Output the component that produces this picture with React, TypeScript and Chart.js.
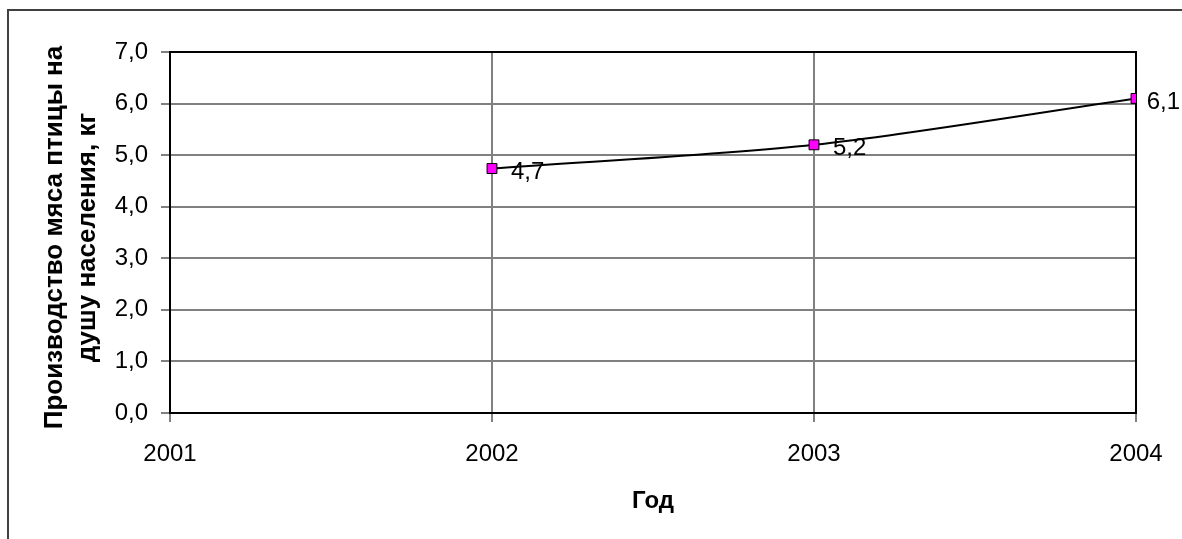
import React, { useEffect, useRef } from "react";
import { Chart, registerables } from "chart.js";

Chart.register(...registerables);

const years: number[] = [2002, 2003, 2004];
const values: number[] = [4.74, 5.2, 6.1];
const yTitleLines: string[] = ["Производство мяса птицы на", "душу населения, кг"];
const xTitle = "Год";

const FONT = "'Liberation Sans', Arial, sans-serif";
const fmt = (v: number) => v.toFixed(1).replace(".", ",");

export default function App() {
  const ref = useRef<HTMLCanvasElement | null>(null);

  useEffect(() => {
    document.body.style.margin = "0";
    const canvas = ref.current;
    if (!canvas) return;

    const decor = {
      id: "decor",
      beforeDraw(chart: any) {
        const ctx = chart.ctx;
        ctx.save();
        ctx.fillStyle = "#ffffff";
        ctx.fillRect(0, 0, chart.width, chart.height);
        ctx.strokeStyle = "#404040";
        ctx.lineWidth = 2;
        ctx.beginPath();
        ctx.moveTo(8, chart.height + 10);
        ctx.lineTo(8, 10);
        ctx.lineTo(chart.width + 10, 10);
        ctx.stroke();
        ctx.restore();
      },
      beforeDatasetsDraw(chart: any) {
        const { ctx, chartArea: a } = chart;
        ctx.save();
        ctx.strokeStyle = "#000000";
        ctx.lineWidth = 2;
        ctx.strokeRect(a.left, a.top, a.right - a.left, a.bottom - a.top);
        ctx.restore();
      },
      afterDatasetsDraw(chart: any) {
        const { ctx, chartArea: a } = chart;
        ctx.save();
        ctx.fillStyle = "#000000";
        ctx.font = `24px ${FONT}`;
        ctx.textAlign = "left";
        ctx.textBaseline = "middle";
        const meta = chart.getDatasetMeta(0);
        meta.data.forEach((pt: any, i: number) => {
          const txt = fmt(values[i]);
          const w = ctx.measureText(txt).width;
          const x = Math.min(pt.x + 19, chart.width - 2 - w);
          ctx.fillText(txt, x, pt.y + 4);
        });
        // x title
        ctx.textBaseline = "alphabetic";
        ctx.font = `bold 24px ${FONT}`;
        ctx.textAlign = "center";
        ctx.fillText(xTitle, (a.left + a.right) / 2, 508);
        // y title
        ctx.font = `bold 26px ${FONT}`;
        ctx.translate(0, (a.top + a.bottom) / 2 + 5);
        ctx.rotate(-Math.PI / 2);
        ctx.fillText(yTitleLines[0], 0, 62);
        ctx.fillText(yTitleLines[1], 0, 95);
        ctx.restore();
      },
    };

    const chart = new Chart(canvas, {
      type: "line",
      data: {
        datasets: [
          {
            data: years.map((y, i) => ({ x: y, y: values[i] })),
            borderColor: "#000000",
            borderWidth: 2,
            tension: 0.3,
            pointStyle: "rect",
            pointRadius: 7,
            pointBackgroundColor: "#ff00ff",
            pointBorderColor: "#000000",
            pointBorderWidth: 1,
            fill: false,
          },
        ],
      },
      options: {
        animation: false,
        responsive: true,
        maintainAspectRatio: false,
        layout: { padding: { left: 0, top: 52, right: 46, bottom: 0 } },
        plugins: { legend: { display: false }, tooltip: { enabled: false } },
        scales: {
          x: {
            type: "linear",
            min: 2001,
            max: 2004,
            afterFit(scale: any) {
              scale.height = 126;
            },
            ticks: {
              stepSize: 1,
              color: "#000000",
              font: { size: 24, family: FONT },
              padding: 18,
              maxRotation: 0,
              callback: (v: any) => String(v),
            },
            grid: { color: "#808080", lineWidth: 2, tickLength: 9 },
            border: { color: "#000000", width: 2 },
          },
          y: {
            min: 0,
            max: 7,
            afterFit(scale: any) {
              scale.width = 170;
            },
            ticks: {
              stepSize: 1,
              color: "#000000",
              font: { size: 24, family: FONT },
              padding: 13,
              callback: (v: any) => fmt(Number(v)),
            },
            grid: { color: "#808080", lineWidth: 2, tickLength: 9 },
            border: { color: "#000000", width: 2 },
          },
        },
      },
      plugins: [decor],
    });

    return () => chart.destroy();
  }, []);

  return (
    <div style={{ position: "relative", width: 1182, height: 539 }}>
      <canvas ref={ref} />
    </div>
  );
}
